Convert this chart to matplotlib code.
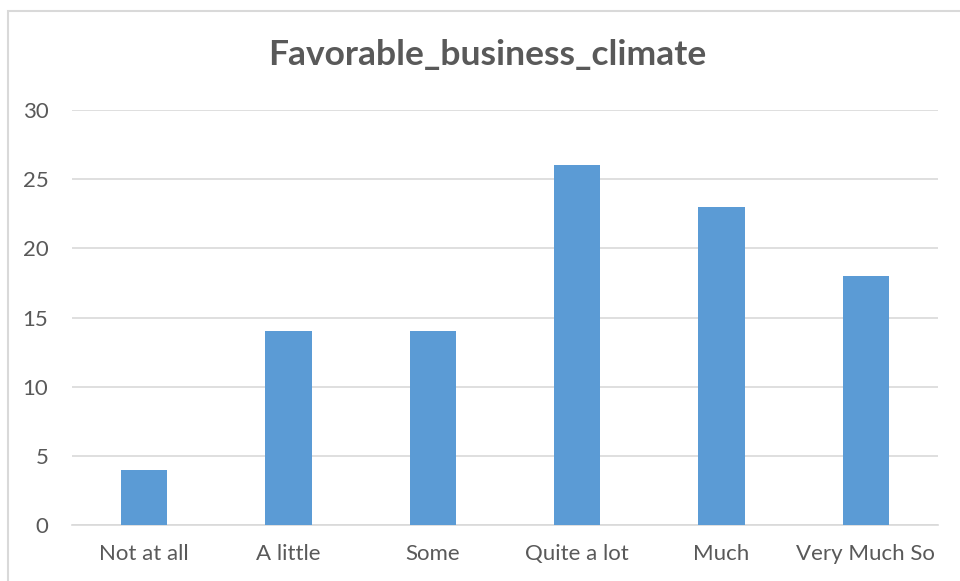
import matplotlib
matplotlib.use('Agg')
import matplotlib.pyplot as plt
from matplotlib.patches import Rectangle

categories = ['Not at all', 'A little', 'Some', 'Quite a lot', 'Much', 'Very Much So']
counts = [4, 14, 14, 26, 23, 18]
yticks = [0, 5, 10, 15, 20, 25, 30]

plt.rcParams['font.family'] = ['Lato', 'DejaVu Sans']

fig = plt.figure(figsize=(9.6, 5.81), dpi=100)
ax = fig.add_axes([0.075, 1 - 525 / 581, 0.902, (525 - 110) / 581])

# outer chart frame, cut off on the right and bottom
fig.patches.append(Rectangle((8 / 960, -0.5), 1.5, 0.5 + (581 - 11) / 581,
                             transform=fig.transFigure, fill=False,
                             edgecolor='#D9D9D9', linewidth=1.5))

x = range(len(categories))
ax.bar(x, counts, width=0.32, color='#5B9BD5', zorder=3)

ax.set_xlim(-0.5, len(categories) - 0.5)
ax.set_ylim(0, 30)
ax.set_yticks(yticks)
ax.set_xticks(list(x))
ax.set_xticklabels(categories)
ax.tick_params(axis='both', length=0, colors='#595959', labelsize=16)
ax.tick_params(axis='y', pad=17)
ax.tick_params(axis='x', pad=14)
ax.grid(axis='y', color='#D9D9D9', linewidth=1.2, zorder=0)
for s in ['top', 'right', 'left']:
    ax.spines[s].set_visible(False)
ax.spines['bottom'].set_color('#D9D9D9')
ax.spines['bottom'].set_linewidth(1.2)

fig.text(487 / 960, 1 - 55 / 581, 'Favorable_business_climate', ha='center', va='center',
         fontsize=25.5, fontweight='bold', color='#595959')

fig.savefig('out.png', dpi=100)
